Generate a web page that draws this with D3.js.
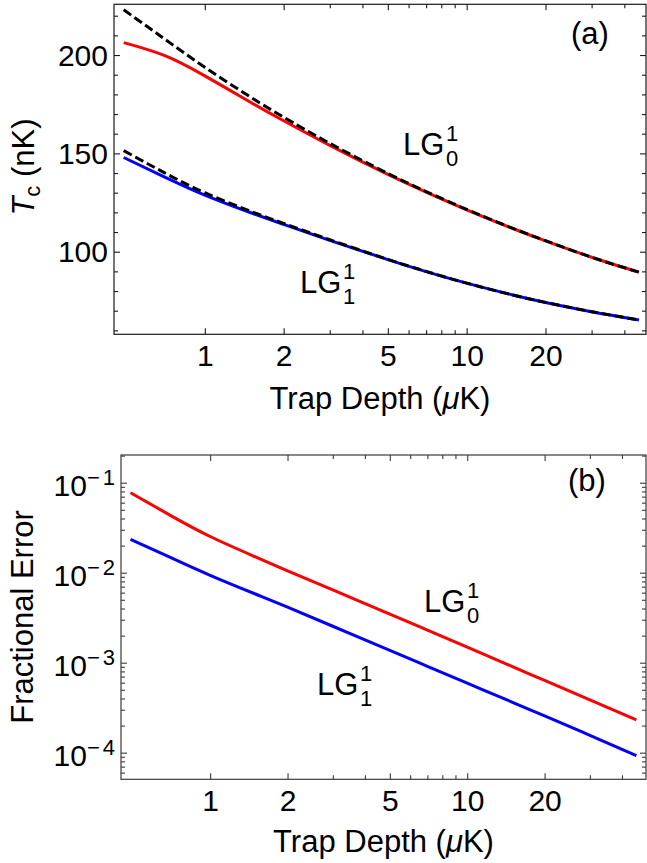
<!DOCTYPE html>
<html>
<head>
<meta charset="utf-8" />
<title>Tc vs trap depth</title>
<script src="https://cdnjs.cloudflare.com/ajax/libs/d3/7.8.5/d3.min.js"></script>
<style>
  body { margin: 0; background: #fff; }
  svg { display: block; font-family: "Liberation Sans", Arial, sans-serif; }
</style>
</head>
<body>
<svg id="chart" width="647" height="863"></svg>
<script>
// trap depth (uK) sample points
const depth = [0.49, 0.7, 1, 1.5, 2, 3, 5, 7, 10, 15, 20, 30, 45.5]

// panel (a): Tc in nK, full calculation and approximation (dashed)
const tcLG01 = [206.3, 199.8, 189.4, 175.9, 166.6, 154.1, 139.3, 130.3, 121.3, 111.8, 105.5, 97.2, 89.6]
const tcLG01approx = [223, 208.3, 193.8, 178.5, 168.4, 155.1, 139.8, 130.6, 121.5, 111.9, 105.6, 97.2, 89.6]
const tcLG11 = [147.9, 138.1, 128.8, 119.8, 113.9, 105.8, 96.0, 89.9, 84.0, 78.0, 74.2, 69.5, 65.3]
const tcLG11approx = [151.4, 140.2, 130.0, 120.5, 114.4, 106.1, 96.1, 90.0, 84.0, 78.0, 74.25, 69.5, 65.3]

// panel (b): fractional error
const errLG01 = [0.0774, 0.0434, 0.02525, 0.015, 0.0105, 0.00643, 0.00346, 0.0023, 0.001486, 0.000904, 0.000634, 0.000386, 0.000231]
const errLG11 = [0.0235, 0.01478, 0.00936, 0.0058, 0.00415, 0.00254, 0.00137, 0.000911, 0.000592, 0.000363, 0.000256, 0.000156, 0.0000925]

const xMajor = [1, 2, 5, 10, 20]
const xMinor = [3, 4, 6, 7, 8, 9, 30, 40]
const tcMajor = [100, 150, 200]
const tcMinor = d3.range(60, 230, 10).filter(v => tcMajor.indexOf(v) < 0)
const errMajor = [1e-4, 1e-3, 1e-2, 1e-1]

const svg = d3.select('#chart')
const FS = 30

function frameAxes(g, x, y, box, opt) {
  let [x0, y0, x1, y1] = box
  let majorLen = 6, minorLen = 4

  // bottom / top x ticks
  g.append('g').attr('transform', `translate(0,${y1})`)
    .call(d3.axisBottom(x).tickValues(xMajor).tickSizeInner(-majorLen).tickSizeOuter(0)
      .tickPadding(opt.xPad).tickFormat(d3.format('d')))
    .call(s => s.selectAll('text').attr('font-size', FS))
  g.append('g').attr('transform', `translate(0,${y1})`)
    .call(d3.axisBottom(x).tickValues(xMinor).tickSizeInner(-minorLen).tickSizeOuter(0).tickFormat(''))
  g.append('g').attr('transform', `translate(0,${y0})`)
    .call(d3.axisTop(x).tickValues(xMajor).tickSizeInner(-majorLen).tickSizeOuter(0).tickFormat(''))
  g.append('g').attr('transform', `translate(0,${y0})`)
    .call(d3.axisTop(x).tickValues(xMinor).tickSizeInner(-minorLen).tickSizeOuter(0).tickFormat(''))

  // left / right y ticks
  let left = g.append('g').attr('transform', `translate(${x0},0)`)
    .call(d3.axisLeft(y).tickValues(opt.yMajor).tickSizeInner(-majorLen).tickSizeOuter(0)
      .tickPadding(opt.yPad).tickFormat(opt.yFmt))
  left.selectAll('text').attr('font-size', FS).attr('dy', opt.yDy)
  if (opt.yPost) opt.yPost(left.selectAll('text'))
  g.append('g').attr('transform', `translate(${x0},0)`)
    .call(d3.axisLeft(y).tickValues(opt.yMinor).tickSizeInner(-minorLen).tickSizeOuter(0).tickFormat(''))
  g.append('g').attr('transform', `translate(${x1},0)`)
    .call(d3.axisRight(y).tickValues(opt.yMajor).tickSizeInner(-majorLen).tickSizeOuter(0).tickFormat(''))
  g.append('g').attr('transform', `translate(${x1},0)`)
    .call(d3.axisRight(y).tickValues(opt.yMinor).tickSizeInner(-minorLen).tickSizeOuter(0).tickFormat(''))

  g.selectAll('.domain').remove()
  g.selectAll('g').attr('font-family', null)
  g.selectAll('.tick line').attr('stroke', opt.frame).attr('stroke-width', 1.1)
  g.selectAll('.tick text').attr('fill', '#000')

  g.append('rect')
    .attr('x', x0).attr('y', y0).attr('width', x1 - x0).attr('height', y1 - y0)
    .attr('fill', 'none').attr('stroke', opt.frame).attr('stroke-width', 1.2)
}

function curve(g, x, y, vals, color, dashed) {
  let line = d3.line()
    .x((d, i) => x(depth[i]))
    .y(d => y(d))
    .curve(d3.curveNatural)
  g.append('path').datum(vals)
    .attr('d', line)
    .attr('fill', 'none')
    .attr('stroke', color)
    .attr('stroke-width', 3)
    .attr('stroke-dasharray', dashed ? '9,4' : null)
}

function lgLabel(g, lx, by, sub) {
  g.append('text').attr('x', lx).attr('y', by).attr('font-size', FS + 1).text('LG')
  g.append('text').attr('x', lx + 43).attr('y', by - 14).attr('font-size', 22).text('1')
  g.append('text').attr('x', lx + 43).attr('y', by + 11).attr('font-size', 22).text(sub)
}

function xTitle(g, cx, by) {
  let t = g.append('text').attr('x', cx).attr('y', by).attr('text-anchor', 'middle').attr('font-size', FS + 1)
  t.append('tspan').text('Trap Depth (')
  t.append('tspan').attr('font-style', 'italic').text('\u03bc')
  t.append('tspan').text('K)')
}

// ---------- panel (a)
let boxA = [114, 4.3, 646, 334.3]
let xA = d3.scaleLog().domain([0.45, 48.4]).range([boxA[0], boxA[2]])
let yA = d3.scaleLinear().domain([58, 225.8]).range([boxA[3], boxA[1]])
let gA = svg.append('g')

curve(gA, xA, yA, tcLG01, '#ff0000', false)
curve(gA, xA, yA, tcLG01approx, '#000', true)
curve(gA, xA, yA, tcLG11, '#0000ff', false)
curve(gA, xA, yA, tcLG11approx, '#000', true)

frameAxes(gA, xA, yA, boxA, {
  yMajor: tcMajor, yMinor: tcMinor, yFmt: d3.format('d'),
  xPad: 10, yPad: 6, yDy: '0.34em', frame: '#1a1a1a'
})

lgLabel(gA, 403, 155, '0')
lgLabel(gA, 300, 293, '1')
gA.append('text').attr('x', 571).attr('y', 44).attr('font-size', FS + 1).text('(a)')
xTitle(gA, 380, 409)

let ytA = gA.append('text').attr('transform', 'translate(34,167) rotate(-90)')
  .attr('text-anchor', 'middle').attr('font-size', FS + 1)
ytA.append('tspan').attr('font-style', 'italic').text('T')
ytA.append('tspan').attr('font-size', 22).attr('dy', 6).text('c')
ytA.append('tspan').attr('dy', -6).text(' (nK)')

// ---------- panel (b)
let boxB = [121, 455, 646, 779.3]
let xB = d3.scaleLog().domain([0.45, 49.6]).range([boxB[0], boxB[2]])
let yB = d3.scaleLog().domain([Math.pow(10, -4.296), Math.pow(10, -0.692)]).range([boxB[3], boxB[1]])
let gB = svg.append('g')

let errMinor = []
for (let e = -5; e <= -1; e++) {
  for (let k = 2; k <= 9; k++) {
    let v = k * Math.pow(10, e)
    if (v > yB.domain()[0] && v < yB.domain()[1]) errMinor.push(v)
  }
}

curve(gB, xB, yB, errLG01, '#ff0000', false)
curve(gB, xB, yB, errLG11, '#0000ff', false)

frameAxes(gB, xB, yB, boxB, {
  yMajor: errMajor, yMinor: errMinor, yFmt: () => '',
  xPad: 10, yPad: 3, yDy: '0.42em', frame: '#3a3a3a',
  yPost: sel => sel.each(function(d) {
    let t = d3.select(this)
    t.append('tspan').text('10')
    t.append('tspan').attr('font-size', 22).attr('dy', -11).attr('letter-spacing', 3)
      .text('\u2212' + Math.round(-Math.log10(d)))
  })
})

lgLabel(gB, 424, 611.7, '0')
lgLabel(gB, 317, 695, '1')
gB.append('text').attr('x', 568).attr('y', 491).attr('font-size', FS + 1).text('(b)')
xTitle(gB, 383.5, 852)

gB.append('text').attr('transform', 'translate(33,617) rotate(-90)')
  .attr('text-anchor', 'middle').attr('font-size', FS + 1).text('Fractional Error')
</script>
</body>
</html>
